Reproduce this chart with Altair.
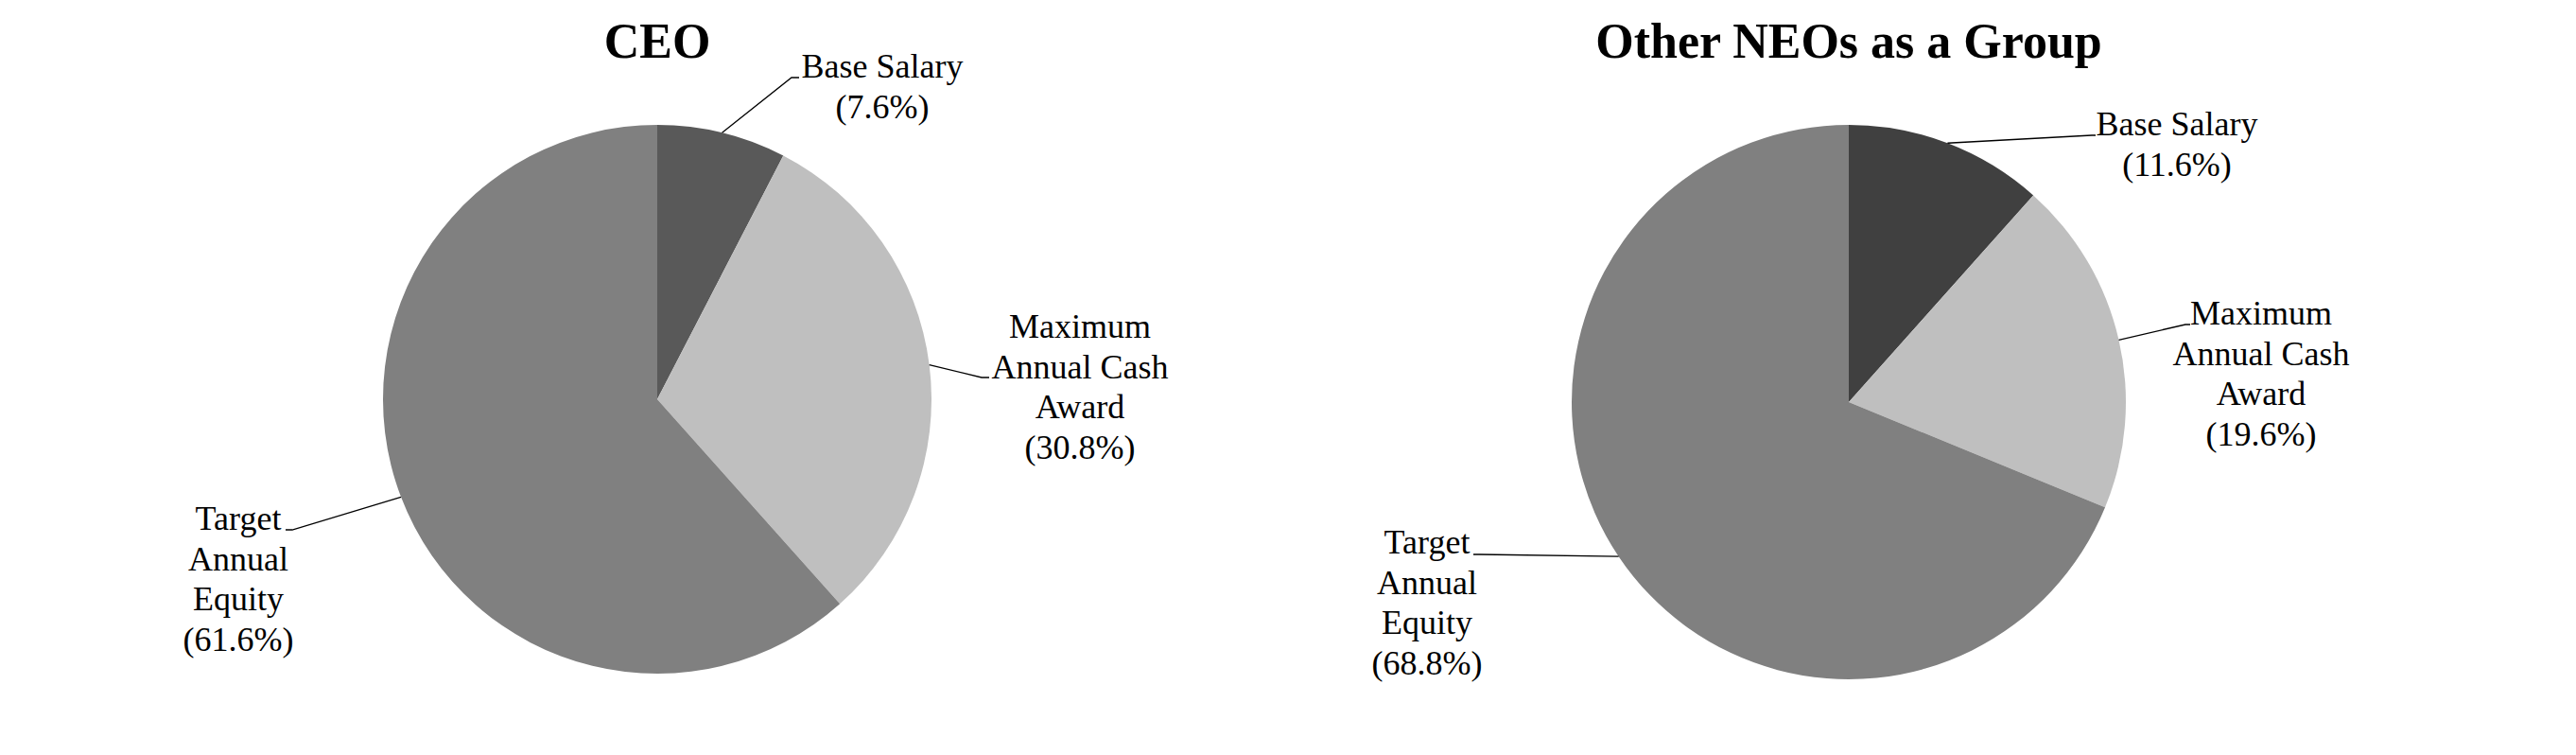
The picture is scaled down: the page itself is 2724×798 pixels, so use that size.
import math
import altair as alt
import pandas as pd

# ---------------- data ----------------
pies = ["CEO", "Other NEOs as a Group"]
categories = ["Base Salary", "Maximum Annual Cash Award", "Target Annual Equity"]
label_lines = [["Base Salary"], ["Maximum", "Annual Cash", "Award"], ["Target", "Annual", "Equity"]]
ceo_values = [7.6, 30.8, 61.6]
neo_values = [11.6, 19.6, 68.8]
values_by_pie = {"CEO": ceo_values, "Other NEOs as a Group": neo_values}

# ---------------- layout / style ----------------
W, H = 2708, 780
CENTER = {"CEO": (695, 422), "Other NEOs as a Group": (1955, 425)}
RADIUS = {"CEO": 290, "Other NEOs as a Group": 293}
SLICE_COLORS = {
    "CEO": ["#595959", "#bfbfbf", "#808080"],
    "Other NEOs as a Group": ["#404040", "#bfbfbf", "#808080"],
}
# label anchor (center x, first baseline y) and leader elbow (x, y) and tail end x
LABEL_LAYOUT = {
    ("CEO", 0): dict(lx=933, ly=82, ex=837, ey=82, tx=845),
    ("CEO", 1): dict(lx=1142, ly=357, ex=1038, ey=399, tx=1046),
    ("CEO", 2): dict(lx=252, ly=560, ex=309, ey=560, tx=302),
    ("Other NEOs as a Group", 0): dict(lx=2302, ly=143, ex=2212, ey=143, tx=2216),
    ("Other NEOs as a Group", 1): dict(lx=2391, ly=343, ex=2311, ey=343, tx=2316),
    ("Other NEOs as a Group", 2): dict(lx=1509, ly=585, ex=1564, ey=586, tx=1558),
}
TITLE_Y = 61
FONT = "Liberation Serif"
LINE_H = 42.5

xscale = alt.Scale(domain=[8, 8 + W], range=[0, W])
yscale = alt.Scale(domain=[8, 8 + H], reverse=True)

# ---------------- frames ----------------
slice_rows, label_rows, line_rows, title_rows = [], [], [], []
for p in pies:
    cx, cy = CENTER[p]
    r = RADIUS[p]
    vals = values_by_pie[p]
    cum = 0.0
    title_rows.append(dict(x=cx, y=TITLE_Y, text=p))
    for i, (cat, v) in enumerate(zip(categories, vals)):
        key = f"{p}|{cat}"
        slice_rows.append(dict(pie=p, category=cat, key=key, order=i, value=v,
                               cx=cx, cy=cy, r=r))
        mid = (cum + v / 2) / 100 * 2 * math.pi
        cum += v
        lay = LABEL_LAYOUT[(p, i)]
        text = "\n".join(label_lines[i] + [f"({v:.1f}%)"])
        label_rows.append(dict(x=lay["lx"], y=lay["ly"], text=text))
        rimx = cx + r * math.sin(mid)
        rimy = cy - r * math.cos(mid)
        lid = key
        line_rows += [
            dict(id=lid, seq=0, x=rimx, y=rimy),
            dict(id=lid, seq=1, x=lay["ex"], y=lay["ey"]),
            dict(id=lid, seq=2, x=lay["tx"], y=lay["ey"]),
        ]

slices = pd.DataFrame(slice_rows)
labels = pd.DataFrame(label_rows)
lines = pd.DataFrame(line_rows)
titles = pd.DataFrame(title_rows)

keys = [f"{p}|{c}" for p in pies for c in categories]
key_colors = [SLICE_COLORS[p][i] for p in pies for i in range(len(categories))]

layers = []
for p in pies:
    arc = (
        alt.Chart(slices[slices.pie == p])
        .transform_window(cum="sum(value)", sort=[alt.SortField("order")], frame=[None, 0])
        .transform_calculate(start="datum.cum - datum.value")
        .mark_arc(outerRadius=RADIUS[p], stroke=None)
        .encode(
            x=alt.X("cx:Q", scale=xscale, axis=None),
            y=alt.Y("cy:Q", scale=yscale, axis=None),
            theta=alt.Theta("start:Q", scale=alt.Scale(domain=[0, 100], range=[0, 2 * math.pi])),
            theta2="cum:Q",
            color=alt.Color("key:N", scale=alt.Scale(domain=keys, range=key_colors), legend=None),
        )
    )
    layers.append(arc)

leader = (
    alt.Chart(lines)
    .mark_line(color="#000000", strokeWidth=1.3)
    .encode(
        x=alt.X("x:Q", scale=xscale, axis=None),
        y=alt.Y("y:Q", scale=yscale, axis=None),
        detail="id:N",
        order="seq:Q",
    )
)

label_text = (
    alt.Chart(labels)
    .mark_text(font=FONT, fontSize=36, align="center", baseline="alphabetic",
               lineBreak="\n", lineHeight=LINE_H, color="#000000")
    .encode(
        x=alt.X("x:Q", scale=xscale, axis=None),
        y=alt.Y("y:Q", scale=yscale, axis=None),
        text="text:N",
    )
)

title_text = (
    alt.Chart(titles)
    .mark_text(font=FONT, fontSize=52, fontWeight="bold", align="center",
               baseline="alphabetic", color="#000000")
    .encode(
        x=alt.X("x:Q", scale=xscale, axis=None),
        y=alt.Y("y:Q", scale=yscale, axis=None),
        text="text:N",
    )
)

chart = (
    alt.layer(*layers, leader, label_text, title_text)
    .properties(width=W, height=H, padding=0, autosize=alt.AutoSizeParams(type="none"),
                background="white")
    .configure_view(stroke=None)
)

chart.save("out.html", embed_options={"renderer": "svg", "actions": False})
